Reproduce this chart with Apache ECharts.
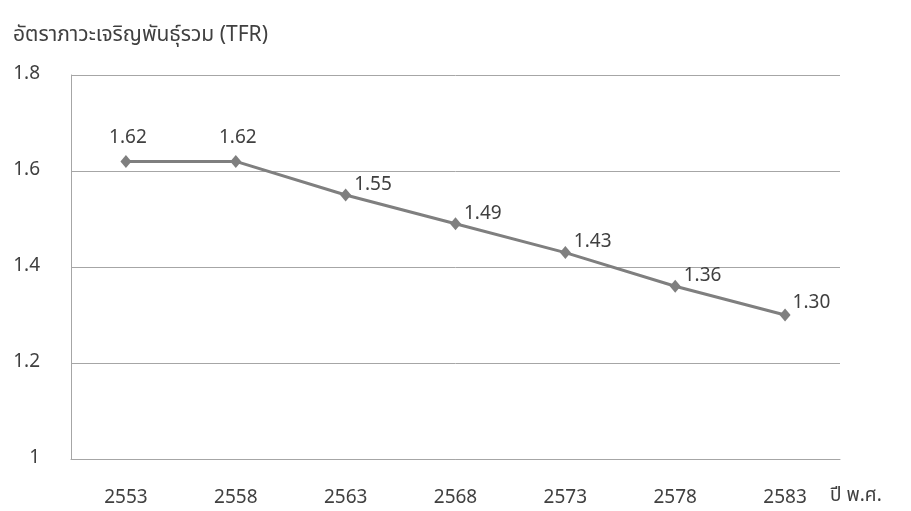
<!DOCTYPE html>
<html>
<head>
<meta charset="utf-8">
<script src="https://cdn.jsdelivr.net/npm/echarts@6/dist/echarts.min.js"></script>
<style>
  html, body { margin: 0; padding: 0; background: #fff; }
  #chart { width: 911px; height: 511px; }
</style>
</head>
<body>
<div id="chart"></div>
<script>
// Total fertility rate by Buddhist-era year
const years = ['2553', '2558', '2563', '2568', '2573', '2578', '2583'];
const tfr = [1.62, 1.62, 1.55, 1.49, 1.43, 1.36, 1.30];
const yTicks = [1, 1.2, 1.4, 1.6, 1.8];

const FONT = '"Noto Sans Thai", "Noto Sans", "DejaVu Sans", sans-serif';
const TEXT = '#404040';
const GRID = '#a6a6a6';
const SIZE = 19;

// label placement per point: first two above, the rest up-right of the marker
const labelFor = (i) => {
  if (i < 2) return { position: 'top', offset: [2, -1] };
  if (i === tfr.length - 1) return { position: 'right', offset: [-3, -11] };
  return { position: 'right', offset: [-2, -9] };
};

const chart = echarts.init(document.getElementById('chart'), null, { renderer: 'canvas' });
chart.setOption({
  animation: false,
  backgroundColor: '#fff',
  title: {
    text: 'อัตราภาวะเจริญพันธุ์รวม (TFR)',
    left: 8,
    top: 21,
    textStyle: { fontFamily: FONT, fontSize: 21, fontWeight: 'normal', color: TEXT }
  },
  grid: { left: 71, right: 71, top: 75, bottom: 52, containLabel: false },
  xAxis: {
    type: 'category',
    data: years,
    boundaryGap: true,
    name: 'ปี พ.ศ.',
    nameLocation: 'end',
    nameGap: -10,
    nameTextStyle: {
      fontFamily: FONT, fontSize: SIZE, color: TEXT,
      align: 'left', verticalAlign: 'top', padding: [29, 0, 0, 0]
    },
    axisLine: { show: true, lineStyle: { color: GRID, width: 1 } },
    axisTick: { show: false },
    axisLabel: { fontFamily: FONT, fontSize: SIZE, color: TEXT, margin: 31 }
  },
  yAxis: {
    type: 'value',
    min: yTicks[0],
    max: yTicks[yTicks.length - 1],
    interval: 0.2,
    axisLine: { show: true, lineStyle: { color: GRID, width: 1 } },
    axisTick: { show: false },
    splitLine: { show: true, lineStyle: { color: GRID, width: 1 } },
    axisLabel: {
      fontFamily: FONT, fontSize: SIZE, color: TEXT, margin: 31,
      formatter: (v) => {
        const t = yTicks.find((k) => Math.abs(k - v) < 1e-9);
        return t === undefined ? '' : String(t);
      }
    }
  },
  series: [{
    type: 'line',
    data: tfr.map((v, i) => ({
      value: v,
      label: labelFor(i)
    })),
    symbol: 'diamond',
    symbolSize: [11, 13],
    lineStyle: { color: '#7f7f7f', width: 3 },
    itemStyle: { color: '#7f7f7f' },
    label: {
      show: true,
      fontFamily: FONT,
      fontSize: SIZE,
      color: TEXT,
      formatter: (p) => p.value.toFixed(2)
    }
  }]
});
</script>
</body>
</html>
